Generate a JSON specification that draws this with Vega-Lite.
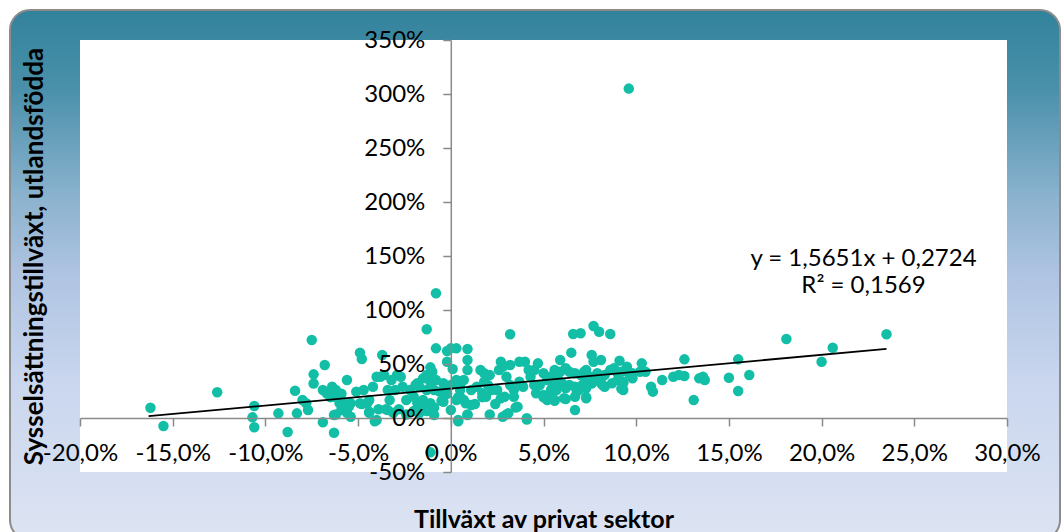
{
  "$schema": "https://vega.github.io/schema/vega-lite/v6.json",
  "width": 1050,
  "height": 530,
  "autosize": "none",
  "padding": {"left": 10, "top": 10, "right": 1, "bottom": -8},
  "background": "#ffffff",
  "view": {
    "fill": {"gradient": "linear", "x1": 0, "y1": 0, "x2": 0, "y2": 1, "stops": [
      {"offset": 0, "color": "#32829B"},
      {"offset": 0.15, "color": "#4A90AB"},
      {"offset": 0.35, "color": "#8AB2CE"},
      {"offset": 0.5, "color": "#AFC4E2"},
      {"offset": 0.7, "color": "#C9D6EE"},
      {"offset": 1, "color": "#DDE4F3"}]},
    "stroke": "#8c8c8c",
    "strokeWidth": 2,
    "cornerRadius": 20
  },
  "config": {
    "locale": {"number": {"decimal": ",", "thousands": " ", "grouping": [3], "currency": ["", " kr"], "minus": "-"}},
    "font": "Lato",
    "axis": {
      "grid": false,
      "domainColor": "#8a8a8a",
      "domainWidth": 1.5,
      "tickColor": "#8a8a8a",
      "tickWidth": 1.5,
      "tickSize": 8,
      "labelFont": "Lato",
      "labelFontSize": 24,
      "labelColor": "#000000",
      "titleFont": "Lato",
      "titleFontWeight": "bold",
      "titleColor": "#000000",
      "labelOverlap": false,
      "labelFlush": false,
      "labelBound": false
    }
  },
  "datasets": {
    "points": [
      {"x": -0.162, "y": 0.095}, {"x": -0.155, "y": -0.074}, {"x": -0.126, "y": 0.238}, {"x": -0.106, "y": 0.111},
      {"x": -0.107, "y": 0.006}, {"x": -0.106, "y": -0.086}, {"x": -0.093, "y": 0.043}, {"x": -0.088, "y": -0.13},
      {"x": -0.084, "y": 0.253}, {"x": -0.083, "y": 0.043}, {"x": -0.080, "y": 0.167}, {"x": -0.077, "y": 0.074},
      {"x": -0.075, "y": 0.722}, {"x": -0.074, "y": 0.404}, {"x": -0.074, "y": 0.32}, {"x": -0.068, "y": 0.49},
      {"x": -0.069, "y": -0.04}, {"x": -0.063, "y": -0.136}, {"x": -0.056, "y": 0.352}, {"x": -0.049, "y": 0.605},
      {"x": -0.048, "y": 0.546}, {"x": -0.037, "y": 0.583}, {"x": -0.040, "y": -0.019}, {"x": -0.034, "y": 0.074},
      {"x": -0.013, "y": 0.821}, {"x": -0.008, "y": 1.155}, {"x": -0.008, "y": 0.645}, {"x": -0.002, "y": 0.62},
      {"x": 0.000, "y": 0.645}, {"x": 0.003, "y": 0.645}, {"x": 0.004, "y": -0.019}, {"x": 0.009, "y": 0.639},
      {"x": 0.009, "y": 0.537}, {"x": 0.032, "y": 0.775}, {"x": 0.028, "y": 0.012}, {"x": 0.031, "y": 0.043},
      {"x": 0.041, "y": -0.003}, {"x": 0.036, "y": 0.105}, {"x": -0.078, "y": 0.136},
      {"x": -0.051, "y": 0.244}, {"x": -0.047, "y": 0.259}, {"x": -0.049, "y": 0.136}, {"x": -0.045, "y": 0.136},
      {"x": -0.044, "y": 0.167}, {"x": -0.044, "y": 0.058}, {"x": -0.042, "y": 0.29}, {"x": -0.040, "y": 0.382},
      {"x": -0.038, "y": 0.382}, {"x": -0.036, "y": 0.398}, {"x": -0.034, "y": 0.259}, {"x": -0.032, "y": 0.352},
      {"x": -0.030, "y": 0.259}, {"x": -0.029, "y": 0.398}, {"x": -0.027, "y": 0.382}, {"x": -0.026, "y": 0.29},
      {"x": -0.024, "y": 0.167}, {"x": -0.022, "y": 0.259}, {"x": -0.020, "y": 0.197}, {"x": -0.018, "y": 0.321},
      {"x": -0.018, "y": 0.136}, {"x": -0.033, "y": 0.167},
      {"x": -0.069, "y": 0.259}, {"x": -0.064, "y": 0.29}, {"x": -0.067, "y": 0.229}, {"x": -0.062, "y": 0.259},
      {"x": -0.063, "y": 0.028}, {"x": -0.059, "y": 0.074}, {"x": -0.054, "y": 0.136}, {"x": -0.054, "y": 0.012},
      {"x": -0.060, "y": 0.136}, {"x": -0.055, "y": 0.105}, {"x": -0.063, "y": 0.197},
      {"x": -0.011, "y": 0.469}, {"x": -0.010, "y": 0.429}, {"x": -0.013, "y": 0.398}, {"x": -0.015, "y": 0.367},
      {"x": -0.011, "y": 0.336}, {"x": -0.008, "y": 0.352}, {"x": -0.017, "y": 0.29}, {"x": -0.019, "y": 0.306},
      {"x": -0.013, "y": 0.259}, {"x": -0.009, "y": 0.259}, {"x": -0.006, "y": 0.244}, {"x": -0.002, "y": 0.275},
      {"x": 0.000, "y": 0.306}, {"x": -0.004, "y": 0.321}, {"x": 0.003, "y": 0.352}, {"x": 0.005, "y": 0.306},
      {"x": 0.005, "y": 0.259}, {"x": 0.007, "y": 0.352}, {"x": 0.009, "y": 0.444}, {"x": 0.011, "y": 0.259},
      {"x": 0.014, "y": 0.29}, {"x": 0.016, "y": 0.444}, {"x": 0.018, "y": 0.414}, {"x": 0.021, "y": 0.398},
      {"x": 0.018, "y": 0.336}, {"x": 0.020, "y": 0.306}, {"x": 0.017, "y": 0.229}, {"x": 0.019, "y": 0.197},
      {"x": 0.022, "y": 0.259}, {"x": 0.025, "y": 0.259}, {"x": 0.027, "y": 0.521}, {"x": 0.028, "y": 0.475},
      {"x": 0.032, "y": 0.491}, {"x": 0.026, "y": 0.444}, {"x": 0.030, "y": 0.382}, {"x": 0.032, "y": 0.306},
      {"x": 0.034, "y": 0.259}, {"x": 0.034, "y": 0.197}, {"x": 0.029, "y": 0.197}, {"x": 0.027, "y": 0.182},
      {"x": 0.003, "y": 0.167}, {"x": 0.007, "y": 0.167}, {"x": 0.008, "y": 0.136}, {"x": 0.005, "y": 0.197},
      {"x": 0.011, "y": 0.12}, {"x": 0.009, "y": 0.028}, {"x": 0.000, "y": 0.074}, {"x": -0.004, "y": 0.151},
      {"x": -0.011, "y": 0.136}, {"x": -0.015, "y": 0.167}, {"x": -0.014, "y": 0.09}, {"x": -0.009, "y": 0.028},
      {"x": -0.017, "y": 0.043}, {"x": 0.037, "y": 0.521}, {"x": 0.040, "y": 0.521}, {"x": 0.042, "y": 0.444},
      {"x": 0.043, "y": 0.382}, {"x": 0.045, "y": 0.444}, {"x": 0.047, "y": 0.506}, {"x": 0.050, "y": 0.414},
      {"x": 0.052, "y": 0.352}, {"x": 0.054, "y": 0.382}, {"x": 0.056, "y": 0.414}, {"x": 0.059, "y": 0.537},
      {"x": 0.039, "y": 0.29}, {"x": 0.037, "y": 0.336}, {"x": 0.045, "y": 0.306}, {"x": 0.048, "y": 0.306},
      {"x": 0.046, "y": 0.229}, {"x": 0.050, "y": 0.213}, {"x": 0.052, "y": 0.167}, {"x": 0.054, "y": 0.259},
      {"x": 0.057, "y": 0.259}, {"x": 0.055, "y": 0.182}, {"x": 0.058, "y": 0.352}, {"x": 0.001, "y": 0.454},
      {"x": -0.002, "y": 0.521},
      {"x": 0.066, "y": 0.778}, {"x": 0.070, "y": 0.784}, {"x": 0.077, "y": 0.852}, {"x": 0.080, "y": 0.799},
      {"x": 0.086, "y": 0.778}, {"x": 0.065, "y": 0.605}, {"x": 0.076, "y": 0.583}, {"x": 0.077, "y": 0.521},
      {"x": 0.081, "y": 0.537}, {"x": 0.091, "y": 0.531}, {"x": 0.095, "y": 0.475}, {"x": 0.103, "y": 0.506},
      {"x": 0.126, "y": 0.543},
      {"x": 0.056, "y": 0.444}, {"x": 0.059, "y": 0.429}, {"x": 0.062, "y": 0.46}, {"x": 0.064, "y": 0.429},
      {"x": 0.067, "y": 0.414}, {"x": 0.070, "y": 0.398}, {"x": 0.072, "y": 0.429}, {"x": 0.073, "y": 0.444},
      {"x": 0.075, "y": 0.382}, {"x": 0.079, "y": 0.414}, {"x": 0.081, "y": 0.367}, {"x": 0.083, "y": 0.398},
      {"x": 0.086, "y": 0.444}, {"x": 0.088, "y": 0.46}, {"x": 0.090, "y": 0.414}, {"x": 0.092, "y": 0.429},
      {"x": 0.096, "y": 0.414}, {"x": 0.098, "y": 0.414}, {"x": 0.102, "y": 0.429}, {"x": 0.105, "y": 0.429},
      {"x": 0.055, "y": 0.306}, {"x": 0.060, "y": 0.321}, {"x": 0.062, "y": 0.275}, {"x": 0.064, "y": 0.306},
      {"x": 0.067, "y": 0.29}, {"x": 0.068, "y": 0.244}, {"x": 0.071, "y": 0.306}, {"x": 0.072, "y": 0.321},
      {"x": 0.073, "y": 0.275}, {"x": 0.076, "y": 0.336}, {"x": 0.079, "y": 0.352}, {"x": 0.081, "y": 0.321},
      {"x": 0.083, "y": 0.29}, {"x": 0.087, "y": 0.321}, {"x": 0.090, "y": 0.352}, {"x": 0.093, "y": 0.321},
      {"x": 0.093, "y": 0.259}, {"x": 0.098, "y": 0.367}, {"x": 0.056, "y": 0.167}, {"x": 0.061, "y": 0.182},
      {"x": 0.067, "y": 0.197}, {"x": 0.069, "y": 0.259}, {"x": 0.073, "y": 0.182}, {"x": 0.067, "y": 0.074},
      {"x": 0.108, "y": 0.29}, {"x": 0.109, "y": 0.244}, {"x": 0.114, "y": 0.352}, {"x": 0.120, "y": 0.382},
      {"x": 0.123, "y": 0.398}, {"x": 0.126, "y": 0.389}, {"x": 0.131, "y": 0.167}, {"x": 0.134, "y": 0.367},
      {"x": 0.136, "y": 0.382}, {"x": 0.137, "y": 0.352}, {"x": 0.150, "y": 0.373}, {"x": 0.155, "y": 0.543},
      {"x": 0.155, "y": 0.25}, {"x": 0.161, "y": 0.398}, {"x": 0.181, "y": 0.731}, {"x": 0.200, "y": 0.521},
      {"x": 0.206, "y": 0.651}, {"x": 0.235, "y": 0.775},
      {"x": -0.065, "y": 0.193}, {"x": -0.059, "y": 0.224}, {"x": -0.057, "y": 0.129}, {"x": -0.062, "y": 0.033},
      {"x": -0.056, "y": 0.049}, {"x": -0.048, "y": 0.129}, {"x": -0.044, "y": 0.049}, {"x": -0.041, "y": -0.031},
      {"x": -0.039, "y": 0.081}, {"x": -0.035, "y": 0.081}, {"x": -0.031, "y": 0.049}, {"x": -0.028, "y": 0.081},
      {"x": -0.024, "y": 0.033}, {"x": -0.020, "y": 0.065}, {"x": -0.017, "y": 0.065}, {"x": -0.013, "y": 0.065},
      {"x": -0.009, "y": 0.097}, {"x": -0.005, "y": 0.16}, {"x": -0.002, "y": 0.224}, {"x": 0.004, "y": 0.193},
      {"x": 0.004, "y": -0.031}, {"x": 0.009, "y": 0.033}, {"x": 0.013, "y": 0.129}, {"x": 0.017, "y": 0.193},
      {"x": 0.021, "y": 0.033}, {"x": 0.024, "y": 0.129}, {"x": 0.030, "y": 0.033}, {"x": 0.035, "y": 0.097},
      {"x": 0.041, "y": -0.015}, {"x": -0.011, "y": -0.318},
      {"x": 0.092, "y": 0.272}, {"x": 0.093, "y": 0.336}, {"x": 0.050, "y": 0.192}, {"x": 0.056, "y": 0.16},
      {"x": 0.062, "y": 0.176}, {"x": 0.073, "y": 0.192}, {"x": 0.082, "y": 0.304}, {"x": 0.076, "y": 0.319},
      {"x": 0.096, "y": 3.05}
    ],
    "trend": [{"x": -0.163, "y": 0.017}, {"x": 0.235, "y": 0.640}],
    "eq": [
      {"x": 0.2226, "y": 1.41, "t": "y = 1,5651x + 0,2724"},
      {"x": 0.2226, "y": 1.16, "t": "R² = 0,1569"}
    ]
  },
  "layer": [
    {
      "data": {"values": [{}]},
      "mark": {"type": "rect", "fill": "#ffffff"},
      "encoding": {
        "x": {
          "datum": -0.2, "type": "quantitative",
          "scale": {"domain": [-0.2, 0.3], "range": [70, 997], "nice": false, "zero": false},
          "axis": {
            "values": [-0.2, -0.15, -0.1, -0.05, 0, 0.05, 0.1, 0.15, 0.2, 0.25, 0.3],
            "format": ".1%",
            "offset": -122,
            "labelPadding": 15,
            "title": "Tillväxt av privat sektor",
            "titleFontSize": 25,
            "titleY": 109,
            "titleBaseline": "alphabetic",
            "zindex": 1
          }
        },
        "x2": {"datum": 0.3},
        "y": {
          "datum": -0.5, "type": "quantitative",
          "scale": {"domain": [-0.5, 3.5], "range": [462, 30], "nice": false, "zero": false},
          "axis": {
            "values": [-0.5, 0, 0.5, 1, 1.5, 2, 2.5, 3, 3.5],
            "format": ".0%",
            "offset": -440.8,
            "labelPadding": 18,
            "title": "Sysselsättningstillväxt, utlandsfödda",
            "titleFontSize": 26,
            "titleX": -408,
            "titleBaseline": "alphabetic",
            "titleAlign": "center",
            "zindex": 1
          }
        },
        "y2": {"datum": 3.5}
      }
    },
    {
      "data": {"name": "points"},
      "mark": {"type": "circle", "size": 110, "color": "#12BFA6", "opacity": 1},
      "encoding": {
        "x": {"field": "x", "type": "quantitative"},
        "y": {"field": "y", "type": "quantitative"}
      }
    },
    {
      "data": {"name": "trend"},
      "mark": {"type": "line", "color": "#000000", "strokeWidth": 1.8},
      "encoding": {
        "x": {"field": "x", "type": "quantitative"},
        "y": {"field": "y", "type": "quantitative"}
      }
    },
    {
      "data": {"name": "eq"},
      "mark": {"type": "text", "align": "center", "baseline": "alphabetic", "font": "Lato", "fontSize": 24, "color": "#000000"},
      "encoding": {
        "x": {"field": "x", "type": "quantitative"},
        "y": {"field": "y", "type": "quantitative"},
        "text": {"field": "t"}
      }
    }
  ]
}
